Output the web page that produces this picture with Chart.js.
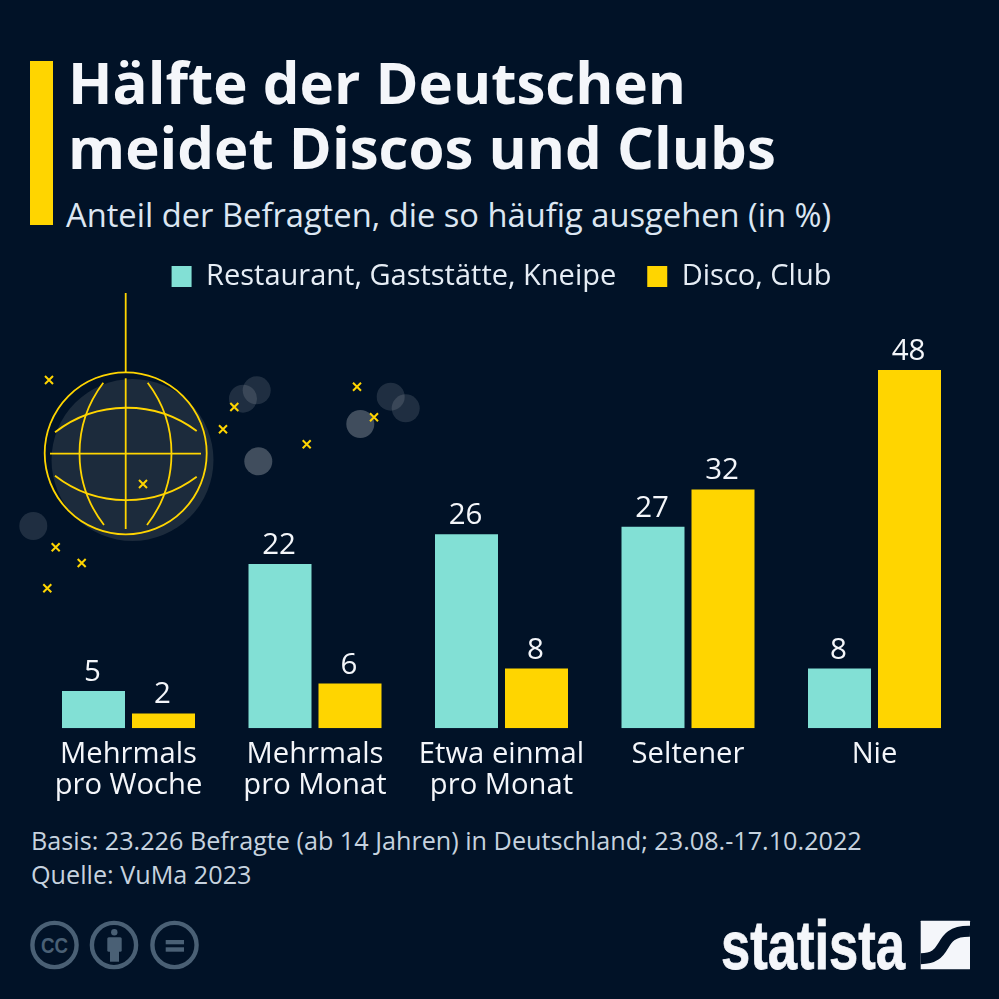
<!DOCTYPE html>
<html lang="de"><head><meta charset="utf-8"><title>Hälfte der Deutschen meidet Discos und Clubs</title>
<style>
html,body{margin:0;padding:0;background:#011227;width:999px;height:999px;overflow:hidden}
#bg,#c{position:absolute;left:0;top:0}
svg text{font-family:"Open Sans"}
</style>
<script src="https://cdn.jsdelivr.net/npm/chart.js@4"></script>
</head><body>
<svg id="bg" width="999" height="999" viewBox="0 0 999 999" xmlns="http://www.w3.org/2000/svg"></svg>
<canvas id="c" width="999" height="999" style="width:999px;height:999px"></canvas>
<script>
const categories=[["Mehrmals","pro Woche"],["Mehrmals","pro Monat"],["Etwa einmal","pro Monat"],["Seltener"],["Nie"]];
const restaurant=[5,22,26,27,8];
const disco=[2,6,8,32,48];
const seriesNames=["Restaurant, Gaststätte, Kneipe","Disco, Club"];
const titleLines=["Hälfte der Deutschen","meidet Discos und Clubs"];
const subtitle="Anteil der Befragten, die so häufig ausgehen (in %)";
const sourceLines=["Basis: 23.226 Befragte (ab 14 Jahren) in Deutschland; 23.08.-17.10.2022","Quelle: VuMa 2023"];
const TEAL="#82E0D5",YEL="#FFD500",TXT="#F4F6FA";

const crosses=[[49,380],[234.3,407],[223,429.3],[357,386.7],[374,417.3],[306.7,444.3],[143,484],[55.7,547.3],[81.7,563],[47.3,588.3]];
const bubbles=[[243,398.7,.12],[256.7,390.3,.12],[258.3,461.3,.25],[360.3,424,.25],[390.7,396.7,.12],[405.7,408.3,.12],[33.3,526,.12]];
let s=`<rect x="30" y="61" width="23" height="164" fill="${YEL}"/>`;
s+=`<text x="68" y="104" font-size="58.2" font-weight="700" fill="${TXT}">${titleLines[0]}</text>`;
s+=`<text x="68" y="169" font-size="58.2" font-weight="700" fill="${TXT}">${titleLines[1]}</text>`;
s+=`<text x="66" y="227" font-size="32.7" fill="#DCE6F2">${subtitle}</text>`;
s+=`<text x="31" y="850" font-size="25.2" fill="#C6D2DF">${sourceLines[0]}</text>`;
s+=`<text x="31" y="884" font-size="25.2" fill="#C6D2DF">${sourceLines[1]}</text>`;
// disco ball
s+=`<circle cx="132.5" cy="460" r="81" fill="#1C2B3C"/>`;
bubbles.forEach(b=>s+=`<circle cx="${b[0]}" cy="${b[1]}" r="14" fill="#fff" fill-opacity="${b[2]}"/>`);
s+=`<g fill="none" stroke="${YEL}" stroke-width="1.8">
<line x1="125.7" y1="293" x2="125.7" y2="372"/>
<circle cx="125.7" cy="453.3" r="81"/>
<line x1="125.7" y1="378.3" x2="125.7" y2="529"/>
<line x1="50" y1="453.7" x2="201" y2="453.7"/>
<path d="M103.3 382.7A117 117 0 0 0 104 525"/>
<path d="M147.7 382.7A117 117 0 0 1 147 525"/>
<path d="M55 432.3A117 117 0 0 1 196.7 431"/>
<path d="M55 475.7A117 117 0 0 0 196.7 476.7"/>
</g>`;
crosses.forEach(c=>{const d=4;s+=`<path d="M${c[0]-d} ${c[1]-d}L${c[0]+d} ${c[1]+d}M${c[0]+d} ${c[1]-d}L${c[0]-d} ${c[1]+d}" stroke="${YEL}" stroke-width="2" fill="none"/>`});
// licence icons
const G="#4A6075";
[[54.5,945],[114,945],[174.5,945]].forEach(c=>s+=`<circle cx="${c[0]}" cy="${c[1]}" r="22.1" fill="none" stroke="${G}" stroke-width="4.4"/>`);
s+=`<text x="41" y="953" font-size="22" font-weight="700" fill="${G}" textLength="27" lengthAdjust="spacingAndGlyphs" style="font-family:'Liberation Sans'">CC</text>`;
s+=`<circle cx="114.3" cy="932.3" r="3.2" fill="${G}"/><rect x="107.3" y="937.3" width="14.4" height="14.4" rx="1.5" fill="${G}"/><rect x="110" y="950" width="9" height="11.7" fill="${G}"/>`;
s+=`<rect x="165.7" y="940" width="18.3" height="4.3" fill="${G}"/><rect x="165.7" y="947.3" width="18.3" height="4.4" fill="${G}"/>`;
// statista logo
s+=`<text x="721" y="968.5" font-size="68" font-weight="700" fill="${TXT}" stroke="${TXT}" stroke-width="0.8" textLength="184" lengthAdjust="spacingAndGlyphs" style="font-family:'Liberation Sans'">statista</text>`;
s+=`<rect x="920.7" y="920.7" width="49.3" height="48.6" rx="0.5" fill="${TXT}"/>`;
s+=`<path d="M970 931.3C951 931 947 939 943 946C939 953 934 958.7 920.7 958.7" fill="none" stroke="#011227" stroke-width="11"/>`;
document.getElementById('bg').innerHTML=s;

const legendHeight={id:'legendHeight',beforeInit(chart){const f=chart.legend.fit;chart.legend.fit=function(){f.call(this);this.height=139;};}};
const valueLabels={id:'valueLabels',afterDatasetsDraw(chart){const x=chart.ctx;x.save();x.font='29.5px "Open Sans"';x.fillStyle=TXT;x.textAlign='center';x.textBaseline='alphabetic';
chart.data.datasets.forEach((d,i)=>chart.getDatasetMeta(i).data.forEach((b,j)=>x.fillText(d.data[j],b.x-1,b.y-10)));x.restore();}};

new Chart(document.getElementById('c'),{type:'bar',
data:{labels:categories,datasets:[
{label:seriesNames[0],data:restaurant,backgroundColor:TEAL,borderWidth:0,barPercentage:.9,categoryPercentage:.7507},
{label:seriesNames[1],data:disco,backgroundColor:YEL,borderWidth:0,barPercentage:.9,categoryPercentage:.7507}]},
options:{responsive:false,animation:false,devicePixelRatio:1,
layout:{padding:{left:35.25,right:31.25,top:231,bottom:195}},
plugins:{tooltip:{enabled:false},
legend:{position:'top',align:'center',labels:{color:"#E6EDF5",boxWidth:20,boxHeight:21,padding:31,font:{family:'"Open Sans"',size:29}}}},
scales:{
y:{display:false,min:0,max:48},
x:{grid:{display:false},border:{display:false},ticks:{color:TXT,padding:2,maxRotation:0,autoSkip:false,font:{family:'"Open Sans"',size:29.2,lineHeight:1.09}}}}},
plugins:[legendHeight,valueLabels]});
</script>
</body></html>
